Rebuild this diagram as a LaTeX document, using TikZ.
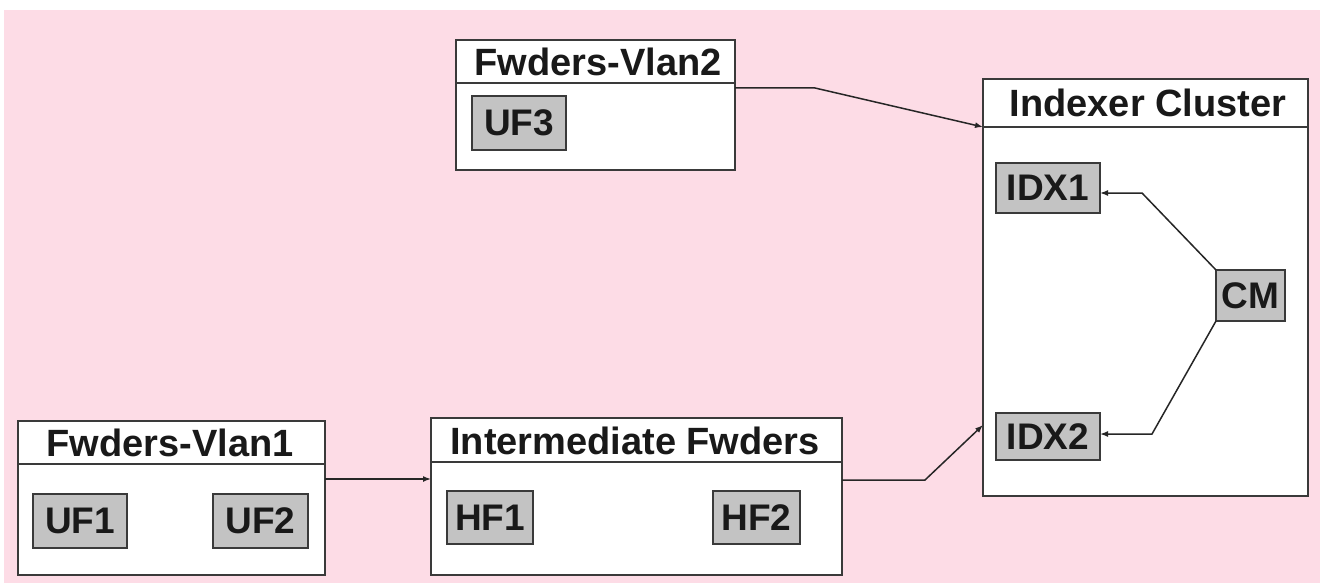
\documentclass[tikz,border=0pt]{standalone}
\usepackage{fontspec}
\setmainfont{Liberation Sans}
\usetikzlibrary{arrows.meta,calc}
\definecolor{bgpink}{HTML}{FDDCE6}
\definecolor{boxline}{HTML}{3A3A3A}
\definecolor{innerfill}{HTML}{C3C3C3}
\begin{document}
\begin{tikzpicture}[x=1pt,y=-1pt,
 container/.style={draw=boxline, line width=2pt, fill=white, inner sep=0pt, outer sep=0pt, anchor=north west},
 boxtitle/.style={font=\fontsize{38}{42}\selectfont\bfseries, text=black!90, inner sep=0pt},
 unitbox/.style={draw=boxline, line width=1.8pt, fill=innerfill, font=\fontsize{37}{42}\selectfont\bfseries, text=black!90, inner sep=0pt, outer sep=0pt, anchor=north west},
 divider/.style={draw=boxline, line width=2pt},
 link/.style={draw=black!85, line width=1.5pt, -{Latex[length=8pt,width=6pt]}}]
\useasboundingbox (0,0) rectangle (1320,583);
\fill[white] (0,0) rectangle (1320,583);
\fill[bgpink] (4,10) rectangle (1320,583);

% containers
\node[container, minimum width=279pt, minimum height=130pt] (vlan2) at (456,40) {};
\node[container, minimum width=325pt, minimum height=417pt] (idxc) at (983,79) {};
\node[container, minimum width=307pt, minimum height=154pt] (vlan1) at (18,421) {};
\node[container, minimum width=411pt, minimum height=157pt] (inter) at (431,418) {};

% dividers
\coordinate (v2dl) at ($(vlan2.north west)+(0,43)$);
\coordinate (v2dr) at ($(vlan2.north east)+(0,43)$);
\draw[divider] (v2dl) -- (v2dr);
\coordinate (icdl) at ($(idxc.north west)+(0,48)$);
\coordinate (icdr) at ($(idxc.north east)+(0,48)$);
\draw[divider] (icdl) -- (icdr);
\coordinate (v1dl) at ($(vlan1.north west)+(0,43)$);
\coordinate (v1dr) at ($(vlan1.north east)+(0,43)$);
\draw[divider] (v1dl) -- (v1dr);
\coordinate (itdl) at ($(inter.north west)+(0,44)$);
\coordinate (itdr) at ($(inter.north east)+(0,44)$);
\draw[divider] (itdl) -- (itdr);

% titles
\node[boxtitle] (t2) at (598,62) {Fwders-Vlan2};
\node[boxtitle] (tc) at (1148,103) {Indexer Cluster};
\node[boxtitle] (t1) at (170,443) {Fwders-Vlan1};
\node[boxtitle] (ti) at (635,441) {Intermediate Fwders};

% units
\node[unitbox, minimum width=94pt, minimum height=54pt] (uf3) at (472,96) {UF3};
\node[unitbox, minimum width=104pt, minimum height=50pt] (idx1) at (996,163) {IDX1};
\node[unitbox, minimum width=69pt, minimum height=51pt] (cm) at (1216,270) {CM};
\node[unitbox, minimum width=104pt, minimum height=47pt] (idx2) at (996,413) {IDX2};
\node[unitbox, minimum width=94pt, minimum height=54pt] (uf1) at (33,494) {UF1};
\node[unitbox, minimum width=95pt, minimum height=54pt] (uf2) at (213,494) {UF2};
\node[unitbox, minimum width=86pt, minimum height=53pt] (hf1) at (447,491) {HF1};
\node[unitbox, minimum width=87pt, minimum height=53pt] (hf2) at (713,491) {HF2};

% connectors
\coordinate (k1) at (815,88);
\draw[link] (vlan2.east |- k1) -- (k1) -- (icdl);
\coordinate (m1) at (0,479);
\draw[link] (vlan1.east |- m1) -- (inter.west |- m1);
\coordinate (k2) at (925,480);
\coordinate (e2) at (0,425);
\draw[link] (inter.east |- k2) -- (k2) -- (idxc.west |- e2);
\coordinate (k3) at (1142,193);
\draw[link] (cm.north west) -- (k3) -- (idx1.east |- k3);
\coordinate (k4) at (1152,434);
\draw[link] (cm.south west) -- (k4) -- (idx2.east |- k4);
\end{tikzpicture}
\end{document}
